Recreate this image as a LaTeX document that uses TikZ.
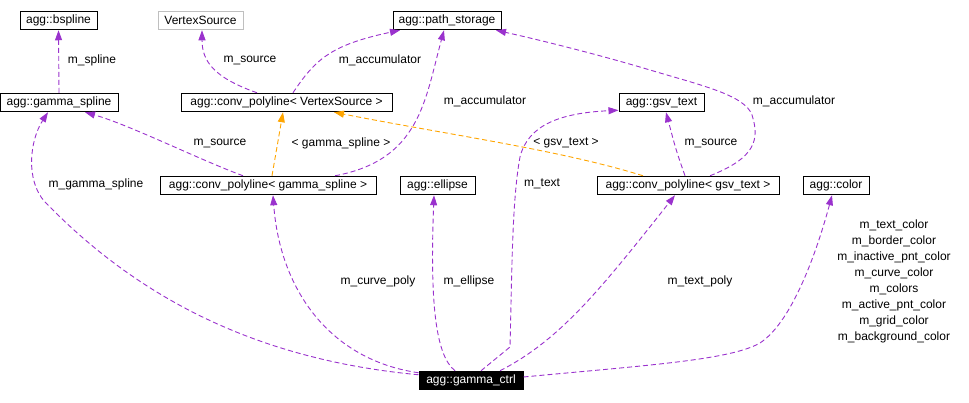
\documentclass[tikz,border=0pt]{standalone}
\usepackage{fontspec}
\setmainfont{Liberation Sans}
\usetikzlibrary{arrows.meta}
\definecolor{refpurple}{HTML}{9A32CD}
\definecolor{reforange}{HTML}{FFA500}
\definecolor{refgray}{HTML}{BFBFBF}

\begin{document}
\begin{tikzpicture}[x=1pt, y=-1pt]
	\tikzstyle{every node} = [font=\fontsize{12}{16}\selectfont, inner sep=0pt]
	\tikzstyle{cls}  = [rectangle, draw=black, line width=1pt, minimum height=18.5pt]
	\tikzstyle{use}  = [draw=refpurple, line width=0.9pt, dash pattern=on 5pt off 3pt,
	                    -{Triangle[length=10pt, width=7pt]}]
	\tikzstyle{tmpl} = [use, draw=reforange]
	\useasboundingbox (0,0) rectangle (969,402);
	% classes
	\node[cls, minimum width=77pt]  (bspline) at (58.5,20.5)  {agg::bspline};
	\node[cls, draw=refgray, minimum width=85pt] (vsrc) at (200.5,20.5) {VertexSource};
	\node[cls, minimum width=108pt] (pstore)  at (447,20.5)   {agg::path\_storage};
	\node[cls, minimum width=118pt] (gspline) at (59,102.5)   {agg::gamma\_spline};
	\node[cls, minimum width=211pt] (cpvs)    at (286.5,102.5) {agg::conv\_polyline< VertexSource >};
	\node[cls, minimum width=85pt]  (gsvtext) at (661.5,102.5) {agg::gsv\_text};
	\node[cls, minimum width=216pt] (cpgs)    at (268,185.5)  {agg::conv\_polyline< gamma\_spline >};
	\node[cls, minimum width=75pt]  (ellipse) at (437.5,185.5) {agg::ellipse};
	\node[cls, minimum width=182pt] (cpgt)    at (688,185.5)  {agg::conv\_polyline< gsv\_text >};
	\node[cls, minimum width=66pt]  (color)   at (836,185.5)  {agg::color};
	\node[cls, fill=black, text=white, minimum width=104pt] (ctrl) at (471,380.5) {agg::gamma\_ctrl};
	% labels
	\node (lspline)  at (92,60)   {m\_spline};
	\node (lsrc1)    at (250,60)  {m\_source};
	\node (lacc1)    at (380,60)  {m\_accumulator};
	\node (lacc2)    at (485,101) {m\_accumulator};
	\node (lacc3)    at (794,101) {m\_accumulator};
	\node (lsrc2)    at (220,143) {m\_source};
	\node (ltgs)     at (341,143) {< gamma\_spline >};
	\node (ltgt)     at (566,143) {< gsv\_text >};
	\node (lsrc3)    at (711,143) {m\_source};
	\node (lgamma)   at (96,184)  {m\_gamma\_spline};
	\node (ltext)    at (542,184) {m\_text};
	\node (lcurve)   at (378,281) {m\_curve\_poly};
	\node (lellipse) at (469,281) {m\_ellipse};
	\node (ltpoly)   at (700,281) {m\_text\_poly};
	\node[align=center] (lcolors) at (894,281) {m\_text\_color\\m\_border\_color\\m\_inactive\_pnt\_color\\m\_curve\_color\\m\_colors\\m\_active\_pnt\_color\\m\_grid\_color\\m\_background\_color};
	% edges
	\draw[use]  (gspline.north) -- (bspline.south);
	\draw[use]  ([xshift=-29.5pt]cpvs.north) .. controls (215,78) and (202,62) .. ([xshift=1.5pt]vsrc.south);
	\draw[use]  ([xshift=6.5pt]cpvs.north) .. controls (315,60) and (330,45) .. ([xshift=-47pt]pstore.south);
	\draw[use]  ([xshift=-25pt]cpgs.north) .. controls (200,160) and (130,125) .. ([xshift=26pt]gspline.south);
	\draw[tmpl] ([xshift=4pt]cpgs.north) -- ([xshift=-3.5pt]cpvs.south);
	\draw[use]  ([xshift=67pt]cpgs.north) .. controls (420,160) and (425,100) .. ([xshift=-3pt]pstore.south);
	\draw[tmpl] ([xshift=-45pt]cpgt.north) .. controls (560,150) and (450,135) .. ([xshift=47.5pt]cpvs.south);
	\draw[use]  ([xshift=-3pt]cpgt.north) .. controls (676,150) .. ([xshift=4.5pt]gsvtext.south);
	\draw[use]  ([xshift=22pt]cpgt.north) .. controls (755,158) and (760,140) .. (752,115)
	            .. controls (745,95) and (700,85) .. (650,70)
	            .. controls (600,55) and (540,40) .. ([xshift=49pt]pstore.south);
	\draw[use]  ([yshift=-4pt]ctrl.north west) .. controls (260,360) and (140,300) .. (45,202)
	            .. controls (25,180) and (30,140) .. ([xshift=-11pt]gspline.south);
	\draw[use]  ([yshift=-2pt]ctrl.north west) .. controls (330,360) and (280,290) .. ([xshift=5pt]cpgs.south);
	\draw[use]  ([xshift=-16pt]ctrl.north) .. controls (435,355) and (430,300) .. ([xshift=-3.5pt]ellipse.south);
	\draw[use]  ([xshift=10pt]ctrl.north) -- (510,347) .. controls (512,270) and (512,200) .. (520,157)
	            .. controls (528,125) and (560,113) .. ([yshift=2pt]gsvtext.south west);
	\draw[use]  ([xshift=29pt]ctrl.north) .. controls (560,340) and (600,290) .. ([xshift=-13pt]cpgt.south);
	\draw[use]  ([yshift=3.5pt]ctrl.east) .. controls (650,365) and (730,360) .. (760,343)
	            .. controls (795,320) and (820,240) .. ([xshift=-4pt]color.south);
\end{tikzpicture}
\end{document}
